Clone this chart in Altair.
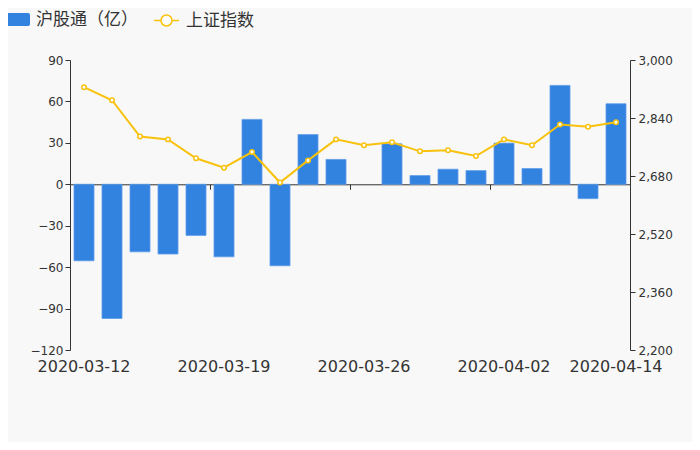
import altair as alt
import pandas as pd

# ---- data ----
dates = ["2020-03-12", "2020-03-13", "2020-03-16", "2020-03-17", "2020-03-18",
         "2020-03-19", "2020-03-20", "2020-03-23", "2020-03-24", "2020-03-25",
         "2020-03-26", "2020-03-27", "2020-03-30", "2020-03-31", "2020-04-01",
         "2020-04-02", "2020-04-03", "2020-04-07", "2020-04-08", "2020-04-14"]
flow = [-55.4, -97.2, -48.9, -50.5, -37.0, -52.5, 47.0, -59.0, 36.0, 18.0,
        None, 29.3, 6.3, 10.9, 9.9, 29.8, 11.4, 71.6, -10.4, 58.3]
index_close = [2925, 2889, 2789, 2781, 2729, 2703, 2746, 2662, 2723, 2781,
               2765, 2773, 2748, 2751, 2735, 2781, 2765, 2822, 2816, 2828]

bar_name = "沪股通（亿）"
line_name = "上证指数"
label_dates = ["2020-03-12", "2020-03-19", "2020-03-26", "2020-04-02", "2020-04-14"]
tick_dates = ["2020-03-19", "2020-03-26", "2020-04-02"]
left_ticks = [-120, -90, -60, -30, 0, 30, 60, 90]
right_ticks = [2200, 2360, 2520, 2680, 2840, 3000]

df = pd.DataFrame({"date": dates, "flow": flow, "close": index_close})

FONT = "DejaVu Sans"
CJK = "Noto Sans CJK SC"
BLUE = "#3282e0"
YELLOW = "#f8c20c"
INK = "#333333"

W, H = 560, 290
xscale = alt.Scale(paddingInner=8 / 28, paddingOuter=4 / 28)

rect_path = ("M-0.84,-0.52L0.84,-0.52Q1,-0.52,1,-0.36L1,0.36Q1,0.52,0.84,0.52"
             "L-0.84,0.52Q-1,0.52,-1,0.36L-1,-0.36Q-1,-0.52,-0.84,-0.52Z")
line_path = ("M-1,0L-0.44,0M0.44,0L1,0M0.44,0A0.44,0.44,0,1,1,-0.44,0"
             "A0.44,0.44,0,1,1,0.44,0Z")

bars = alt.Chart(df).transform_calculate(
    series="'" + bar_name + "'"
).mark_bar(stroke="#5f9de8", strokeWidth=0.8).encode(
    x=alt.X("date:O", sort=dates, scale=xscale,
            axis=alt.Axis(orient="bottom", values=label_dates, labelAngle=0,
                          domain=False, ticks=False, labelFontSize=16,
                          labelFont=FONT, labelColor=INK, labelPadding=8,
                          title=None)),
    y=alt.Y("flow:Q", scale=alt.Scale(domain=[-120, 90], nice=False, zero=False),
            axis=alt.Axis(orient="left", values=left_ticks, title=None, grid=False,
                          domainColor=INK, tickColor=INK, tickSize=5,
                          labelFontSize=12, labelColor=INK, labelFont=FONT,
                          labelPadding=2)),
    fill=alt.Fill("series:N", scale=alt.Scale(domain=[bar_name], range=[BLUE]),
                  legend=alt.Legend(title=None, orient="none", legendX=-65,
                                    legendY=-53, symbolType=rect_path,
                                    symbolSize=625, symbolStrokeWidth=0,
                                    labelFontSize=17, labelFont=CJK,
                                    labelColor=INK, labelOffset=6, padding=0)),
)

line = alt.Chart(df).transform_calculate(
    series2="'" + line_name + "'"
).mark_line(
    strokeWidth=2,
    point=alt.OverlayMarkDef(filled=True, fill="white", size=20, strokeWidth=1.5),
).encode(
    x=alt.X("date:O", sort=dates, scale=xscale,
            axis=alt.Axis(orient="bottom", offset=-(H * 120 / 210), values=tick_dates,
                          labels=False, domain=True, domainColor=INK,
                          ticks=True, tickSize=5, tickOffset=-14, tickColor=INK,
                          title=None)),
    y=alt.Y("close:Q", scale=alt.Scale(domain=[2200, 3000], nice=False, zero=False),
            axis=alt.Axis(orient="right", values=right_ticks, format=",.0f",
                          title=None, grid=False, domainColor=INK, tickColor=INK,
                          tickSize=5, labelFontSize=12, labelColor=INK,
                          labelFont=FONT, labelPadding=3)),
    stroke=alt.Stroke("series2:N", scale=alt.Scale(domain=[line_name], range=[YELLOW]),
                      legend=alt.Legend(title=None, orient="none", legendX=83,
                                        legendY=-53, symbolType=line_path,
                                        symbolSize=625, symbolStrokeWidth=1.5,
                                        symbolFillColor="white",
                                        labelFontSize=17, labelFont=CJK,
                                        labelColor=INK, labelOffset=6, padding=0)),
)

chart = alt.layer(bars, line).resolve_scale(
    y="independent"
).resolve_axis(
    x="independent"
).properties(
    width=W, height=H,
    padding={"left": 62, "top": 52, "right": 62, "bottom": 92},
    autosize=alt.AutoSizeParams(type="none"),
    background="#f8f8f8",
).configure_view(stroke=None)

chart.save("out.html", embed_options={"renderer": "svg", "actions": False})
